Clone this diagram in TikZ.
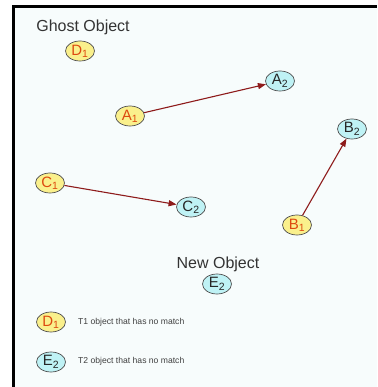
\documentclass[tikz,border=0pt]{standalone}
\usepackage{fontspec}
\setmainfont{Liberation Sans}
\usetikzlibrary{shapes.geometric,arrows.meta}
\definecolor{bgc}{HTML}{F7FCFC}
\definecolor{tone}{HTML}{FAF08C}
\definecolor{ttwo}{HTML}{BFF2F5}
\definecolor{tonetxt}{HTML}{DD4A10}
\definecolor{arrc}{HTML}{8E1B1B}
\definecolor{outl}{HTML}{505050}
\tikzset{
  objbase/.style={ellipse, draw=outl, line width=0.7pt, minimum width=29pt, minimum height=20pt, inner sep=0pt, font=\fontsize{15}{15}\selectfont},
  tonebox/.style={objbase, fill=tone, text=tonetxt},
  ttwobox/.style={objbase, fill=ttwo, text=black!85},
  matcharrow/.style={draw=arrc, line width=1.1pt, -{Triangle[length=8pt,width=6pt]}},
  heading/.style={font=\fontsize{16}{17}\selectfont, text=black!80, inner sep=0pt},
  legendtxt/.style={font=\fontsize{8.6}{9}\selectfont, text=black!75, anchor=west, inner sep=0pt}
}
\begin{document}
\begin{tikzpicture}[x=1pt,y=1pt]
\useasboundingbox (0,0) rectangle (377,387);
\fill[white] (0,0) rectangle (377,387);
\fill[bgc] (12,0) rectangle (377,382);
\fill[black] (12,379) rectangle (377,382);
\fill[black] (12,0) rectangle (15,382);
% headings
\node[heading] (ghost) at (83,360) {Ghost Object};
\node[heading] (newobj) at (218,123) {New Object};
% objects
\node[tonebox] (d1) at (80,336) {D\textsubscript{1}};
\node[tonebox] (a1) at (130,271) {A\textsubscript{1}};
\node[ttwobox] (a2) at (280,306) {A\textsubscript{2}};
\node[tonebox] (b1) at (297,162) {B\textsubscript{1}};
\node[ttwobox] (b2) at (352,258) {B\textsubscript{2}};
\node[tonebox] (c1) at (50,204) {C\textsubscript{1}};
\node[ttwobox] (c2) at (191,180) {C\textsubscript{2}};
\node[ttwobox] (e2) at (217,103) {E\textsubscript{2}};
% arrows
\draw[matcharrow] (a1) -- (a2);
\draw[matcharrow] (b1) -- (b2);
\draw[matcharrow] (c1) -- (c2);
% legend
\node[tonebox] (ld1) at (51,65) {D\textsubscript{1}};
\node[legendtxt] (lt1) at (78,65) {T1 object that has no match};
\node[ttwobox] (le2) at (51,25) {E\textsubscript{2}};
\node[legendtxt] (lt2) at (78,26) {T2 object that has no match};
\end{tikzpicture}
\end{document}
